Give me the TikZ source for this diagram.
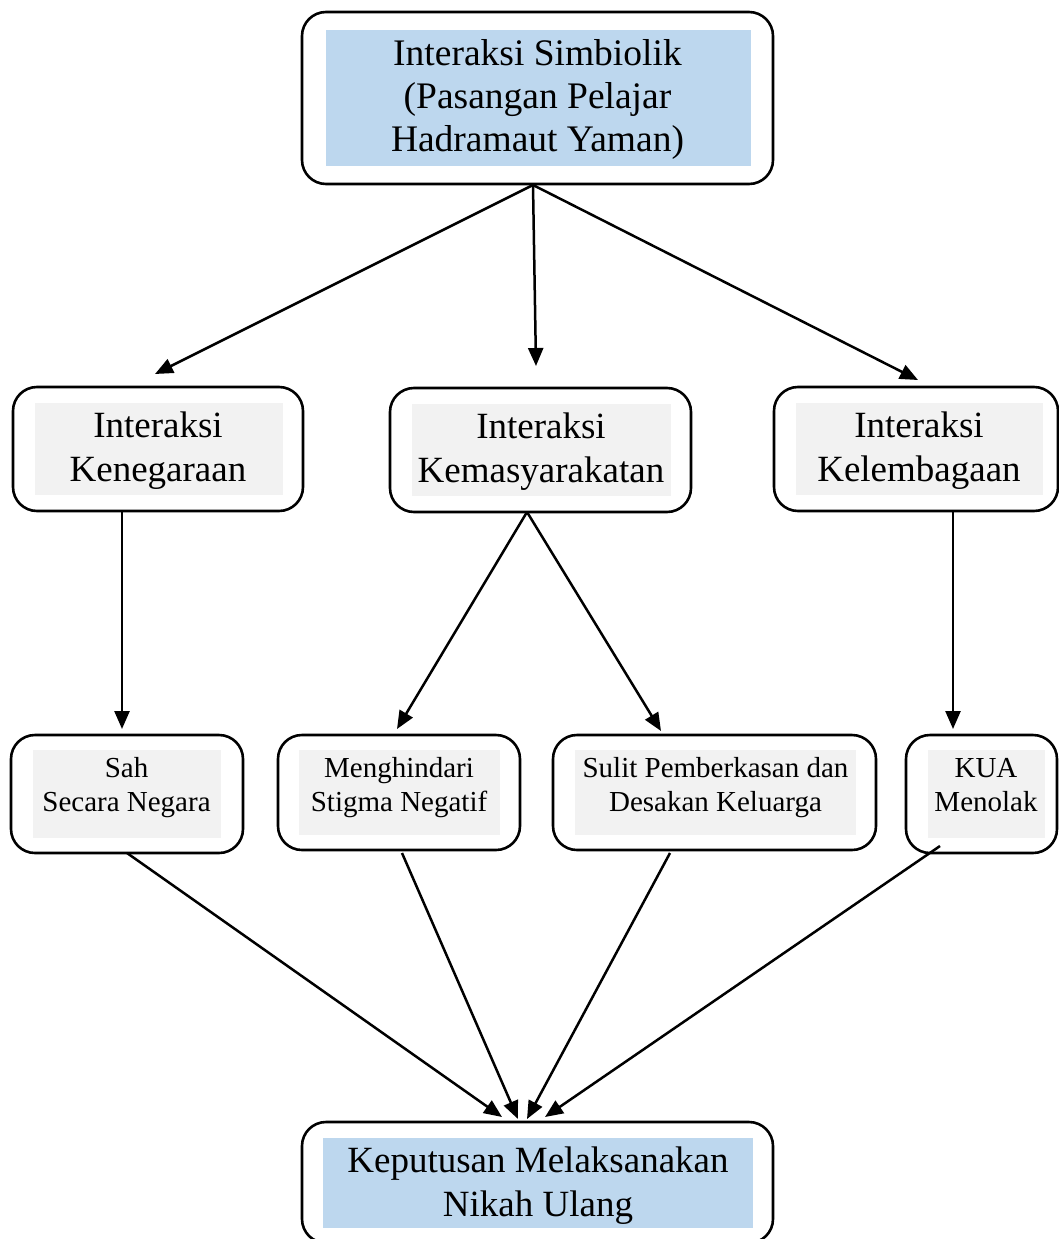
\documentclass[tikz,border=0pt]{standalone}
\usepackage{fontspec}
\setmainfont{Liberation Serif}
\usetikzlibrary{arrows.meta}
\definecolor{lblue}{HTML}{BDD7EE}
\definecolor{lgray}{HTML}{F2F2F2}
\begin{document}
\begin{tikzpicture}[x=1pt,y=-1pt,
  outer/.style={draw=black,line width=2.6pt,rounded corners=24pt,rectangle,inner sep=0pt},
  bigtxt/.style={align=center,inner sep=0pt,font=\fontsize{37.5}{43}\selectfont},
  midtxt/.style={align=center,inner sep=0pt,font=\fontsize{37}{44}\selectfont},
  smalltxt/.style={align=center,inner sep=0pt,font=\fontsize{29}{34}\selectfont},
  arr/.style={line width=2.5pt,-{Triangle[length=18pt,width=15pt]}}]
\useasboundingbox (0,0) rectangle (1059,1239);
\fill[white] (0,0) rectangle (1059,1239);
% boxes
\node[outer,minimum width=471pt,minimum height=172pt] (top) at (537.5,98) {};
\fill[lblue] (326,30) rectangle (751,166);
\node[bigtxt] (toptxt) at (537.5,99) {Interaksi Simbiolik\\(Pasangan Pelajar\\Hadramaut Yaman)};

\node[outer,minimum width=290pt,minimum height=124pt] (mL) at (158,449) {};
\fill[lgray] (35,403) rectangle (283,495);
\node[midtxt] (mLt) at (158,451) {Interaksi\\Kenegaraan};

\node[outer,minimum width=301pt,minimum height=124pt] (mC) at (540.5,450) {};
\fill[lgray] (412,404) rectangle (671,496);
\node[midtxt] (mCt) at (541,452) {Interaksi\\Kemasyarakatan};

\node[outer,minimum width=284pt,minimum height=124pt] (mR) at (916,449) {};
\fill[lgray] (796,403) rectangle (1043,495);
\node[midtxt] (mRt) at (919,451) {Interaksi\\Kelembagaan};

\node[outer,minimum width=232pt,minimum height=118pt] (bA) at (127,794) {};
\fill[lgray] (33,750) rectangle (221,838);
\node[smalltxt] (bAt) at (126.5,788) {Sah\\Secara Negara};

\node[outer,minimum width=242pt,minimum height=115pt] (bB) at (399,792.5) {};
\fill[lgray] (299,750) rectangle (500,835);
\node[smalltxt] (bBt) at (399,788) {Menghindari\\Stigma Negatif};

\node[outer,minimum width=323pt,minimum height=115pt] (bC) at (714.5,792.5) {};
\fill[lgray] (575,750) rectangle (856,835);
\node[smalltxt] (bCt) at (715.5,788) {Sulit Pemberkasan dan\\Desakan Keluarga};

\node[outer,minimum width=151pt,minimum height=118pt] (bD) at (981.5,794) {};
\fill[lgray] (928,750) rectangle (1045,838);
\node[smalltxt] (bDt) at (986,785) {KUA\\Menolak};

\node[outer,minimum width=471pt,minimum height=121pt] (fin) at (537.5,1182.5) {};
\fill[lblue] (323,1138) rectangle (753,1228);
\node[midtxt] (fint) at (538,1186) {Keputusan Melaksanakan\\Nikah Ulang};

% arrow end points
\coordinate (s0) at (533,185);
\coordinate (eL) at (155,374);
\coordinate (eC) at (536,366);
\coordinate (eR) at (918,380);
\coordinate (sL) at (122,512);
\coordinate (eA) at (122,729);
\coordinate (sC) at (527,512);
\coordinate (eB) at (397,729);
\coordinate (eCc) at (661,731);
\coordinate (sR) at (953,512);
\coordinate (eD) at (953,729);
\coordinate (sA) at (127,853);
\coordinate (sB) at (402,853);
\coordinate (sCc) at (670,853);
\coordinate (sD) at (940,846);
\coordinate (f1) at (502,1117);
\coordinate (f2) at (518,1119);
\coordinate (f3) at (527,1119);
\coordinate (f4) at (545,1117);

\draw[arr] (s0) -- (eL);
\draw[arr] (s0) -- (eC);
\draw[arr] (s0) -- (eR);
\draw[arr] (sL) -- (eA);
\draw[arr] (sC) -- (eB);
\draw[arr] (sC) -- (eCc);
\draw[arr] (sR) -- (eD);
\draw[arr] (sA) -- (f1);
\draw[arr] (sB) -- (f2);
\draw[arr] (sCc) -- (f3);
\draw[arr] (sD) -- (f4);
\end{tikzpicture}
\end{document}
